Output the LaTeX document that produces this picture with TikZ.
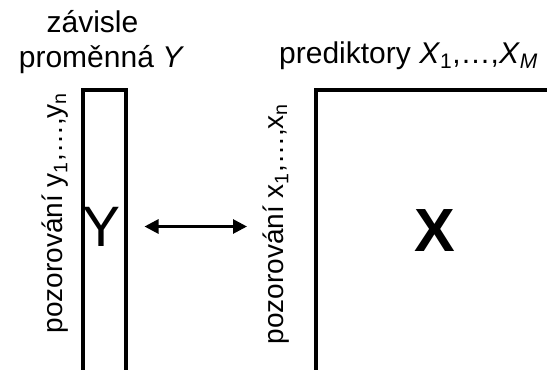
\documentclass[tikz,border=0pt]{standalone}
\usepackage{fontspec}
\setmainfont{Liberation Sans}
\usetikzlibrary{arrows.meta}
\begin{document}
\begin{tikzpicture}[x=1pt,y=-1pt,
		lbl/.style={font=\fontsize{28}{32}\selectfont, inner sep=0pt},
		head/.style={lbl, font=\fontsize{30}{34}\selectfont},
		side/.style={lbl, rotate=90},
		matbox/.style={draw, line width=3.5pt, inner sep=0pt, anchor=north west},
		link/.style={{Triangle[length=14pt,width=14pt]}-{Triangle[length=14pt,width=14pt]}, line width=2.8pt}]
	\useasboundingbox (0,0) rectangle (547,370);

	% matrices
	\node[matbox, minimum width=43pt, minimum height=300pt]	(ybox) at (81,88) {};
	\node[matbox, minimum width=260pt, minimum height=283pt]	(xbox) at (314,88) {};

	% matrix letters
	\node[font=\fontsize{57}{60}\selectfont, inner sep=0pt]		(yname) at (102,226.5) {Y};
	\node[font=\bfseries\fontsize{61}{62}\selectfont, inner sep=0pt]	(xname) at (435,230.5) {X};

	% observation labels
	\node[side]	(yobs) at (55,213) {pozorování y\textsubscript{1},\dots,y\textsubscript{n}};
	\node[side]	(xobs) at (276,224) {pozorování x\textsubscript{1},\dots,x\textsubscript{n}};

	% headings
	\node[head, anchor=base]		(dep1) at (92.5,32) {závisle};
	\node[head, anchor=base]		(dep2) at (101.5,67) {proměnná \textit{Y}};
	\node[head, anchor=base west]	(pred) at (279,63) {prediktory \textit{X}\textsubscript{1},\dots,\textit{X}\textsubscript{\textit{M}}};

	% relation
	\draw[link, shorten <=17pt, shorten >=67pt] (ybox.east |- yname) -- (xbox.west |- yname);
\end{tikzpicture}
\end{document}
